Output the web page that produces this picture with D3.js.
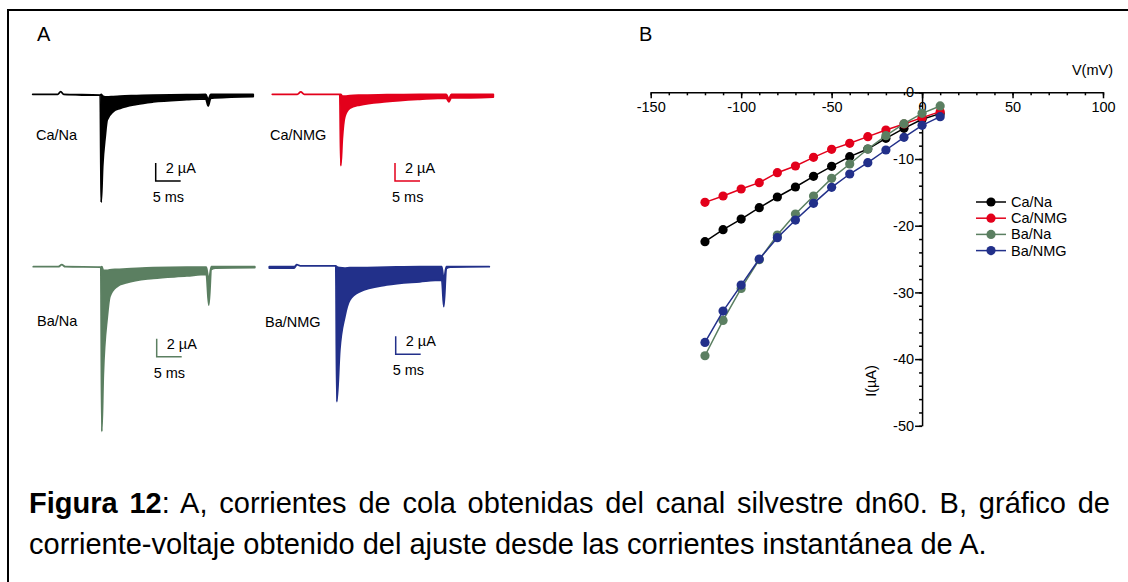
<!DOCTYPE html>
<meta charset="utf-8">
<style>
  body { margin: 0; background: #fff; }
  svg text { font-family: "Liberation Sans", Arial, sans-serif; }
  .axis path, .axis line { stroke: #000; stroke-width: 1.5; }
  .axis text { font-size: 14.5px; fill: #000; }
</style>
<body>
<svg id="fig" width="1128" height="582"></svg>
<script src="https://d3js.org/d3.v7.min.js"></script>
<script>
// ---- panel B data: I-V curves ----
const volts = [-120, -110, -100, -90, -80, -70, -60, -50, -40, -30, -20, -10, 0, 10];
const caNa  = [-22.4, -20.6, -19.0, -17.3, -15.7, -14.2, -12.6, -11.1, -9.65, -8.5, -6.9, -5.4, -4.05, -3.2];
const caNmg = [-16.5, -15.55, -14.5, -13.55, -12.05, -11.05, -9.75, -8.55, -7.65, -6.65, -5.65, -4.75, -3.8, -2.9];
const baNa  = [-39.5, -34.2, -29.4, -25.1, -21.4, -18.25, -15.55, -12.9, -10.75, -8.5, -6.5, -4.7, -3.15, -2.05];
const baNmg = [-37.5, -32.8, -28.9, -25.0, -21.8, -19.15, -16.65, -14.25, -12.25, -10.55, -8.65, -6.75, -4.95, -3.65];
const seriesNames = ["Ca/Na", "Ca/NMG", "Ba/Na", "Ba/NMG"];
const seriesColors = ["#000000", "#e3001b", "#5b7f61", "#22308a"];
const xMajor = [-150, -100, -50, 0, 50, 100];
const yMajor = [0, -10, -20, -30, -40, -50];

// ---- panel A data: tail current envelopes (ms, uA) ----
// hi = smallest sweep (upper edge), lo = largest sweep (lower edge)
const tCaNa  = [0, 5.0, 5.6, 6.2, 13.5, 13.7, 14.0, 14.5, 14.9, 16.1, 17.5, 20.8, 24.1, 30.8, 34.6, 35.1, 35.6, 36.5, 44.1];
const hiCaNa = [0, 0, 0.3, 0, -0.1, 0, -0.2, -0.3, -0.3, -0.25, -0.2, -0.15, -0.1, -0.05, 0, -0.6, 0, 0, 0];
const loCaNa = [0, 0, 0.3, 0, -0.1, -12.0, -8.0, -4.7, -2.86, -1.93, -1.56, -1.11, -0.85, -0.6, -0.5, -1.3, -0.45, -0.4, -0.25];

const tCaNmg  = [0, 5.0, 5.7, 6.4, 13.5, 13.7, 14.0, 14.5, 15.5, 17.5, 22.9, 29.5, 34.8, 35.3, 35.8, 36.5, 44.2];
const hiCaNmg = [0, 0, 0.26, 0, 0, 0, -0.2, -0.2, -0.15, -0.1, -0.05, 0, 0, -0.5, 0, 0, 0];
const loCaNmg = [0, 0, 0.26, 0, 0, -7.93, -5.0, -2.49, -1.56, -1.19, -0.82, -0.56, -0.42, -0.85, -0.4, -0.4, -0.3];

const tBaNa  = [0, 5.0, 5.7, 6.4, 13.5, 13.7, 14.0, 14.8, 15.3, 16.7, 18.7, 24.0, 30.7, 34.6, 35.1, 35.6, 36.5, 44.3];
const hiBaNa = [0, 0, 0.22, 0, -0.05, 0, -0.4, -0.4, -0.35, -0.3, -0.25, -0.1, -0.05, -0.05, -1.5, 0, 0, 0];
const loBaNa = [0, 0, 0.22, 0, -0.05, -18.3, -12.0, -5.56, -3.33, -2.22, -1.78, -1.29, -1.03, -0.85, -4.26, -0.3, -0.15, -0.1];

const tBaNmg  = [0, 5.0, 5.5, 6.2, 13.3, 13.5, 14.1, 15.1, 16.1, 18.1, 23.5, 30.1, 34.5, 34.9, 35.4, 36.3, 44.0];
const hiBaNmg = [0, 0, 0.22, 0.1, 0.1, 0, -0.1, -0.15, -0.1, -0.1, -0.05, 0, 0, -1.5, 0, 0, 0];
const loBaNmg = [-0.15, -0.15, 0.22, 0.1, 0.1, -15.0, -9.26, -5.56, -3.7, -2.78, -2.03, -1.67, -1.5, -4.44, -0.2, -0.05, 0];

const caption1 = ": A, corrientes de cola obtenidas del canal silvestre dn60. B, gráfico de";
const caption2 = "corriente-voltaje obtenido del ajuste desde las corrientes instantánea de A.";

const svg = d3.select("#fig");

// frame
svg.append("path")
  .attr("d", "M8,582V10H1128")
  .attr("fill", "none").attr("stroke", "#000").attr("stroke-width", 2);

svg.append("text").attr("x", 37).attr("y", 41).attr("font-size", 20).text("A");
svg.append("text").attr("x", 639).attr("y", 41).attr("font-size", 20).text("B");

// ---------------- panel A ----------------
const tx = d3.scaleLinear().domain([0, 10]).range([0, 50]);   // 5 px per ms
const ty = d3.scaleLinear().domain([0, -10]).range([0, 90]);  // 9 px per uA

const traces = [
  { name: "Ca/Na",  t: tCaNa,  hi: hiCaNa,  lo: loCaNa,  color: seriesColors[0], x0: 32.7, y0: 94.3,
    label: [36, 140], bar: [155.7, 181] },
  { name: "Ca/NMG", t: tCaNmg, hi: hiCaNmg, lo: loCaNmg, color: seriesColors[1], x0: 272.3, y0: 94.3,
    label: [270, 140], bar: [395, 181] },
  { name: "Ba/Na",  t: tBaNa,  hi: hiBaNa,  lo: loBaNa,  color: seriesColors[2], x0: 33.3, y0: 266.7,
    label: [37, 326], bar: [156.7, 356.7] },
  { name: "Ba/NMG", t: tBaNmg, hi: hiBaNmg, lo: loBaNmg, color: seriesColors[3], x0: 269.3, y0: 266.7,
    label: [265, 327], bar: [395.7, 354.3] }
];

const traceArea = d3.area()
  .x(d => tx(d.t))
  .y0(d => ty(d.hi))
  .y1(d => ty(d.lo))
  .curve(d3.curveMonotoneX);

traces.forEach(tr => {
  const pts = tr.t.map((t, i) => ({ t: t, hi: tr.hi[i], lo: tr.lo[i] }));
  const g = svg.append("g").attr("transform", `translate(${tr.x0},${tr.y0})`);
  g.append("path")
    .attr("d", traceArea(pts))
    .attr("fill", tr.color)
    .attr("stroke", tr.color)
    .attr("stroke-width", 1.8)
    .attr("stroke-linejoin", "round");

  svg.append("text")
    .attr("x", tr.label[0]).attr("y", tr.label[1])
    .attr("font-size", 14.5)
    .text(tr.name);

  // scale bar: 5 ms / 2 uA
  const bx = tr.bar[0], by = tr.bar[1];
  svg.append("path")
    .attr("d", `M${bx},${by + ty(2)}V${by}H${bx + tx(5)}`)
    .attr("fill", "none").attr("stroke", tr.color).attr("stroke-width", 1.5);
  svg.append("text").attr("x", bx + 10).attr("y", by - 8)
    .attr("font-size", 14.5).text("2 µA");
  svg.append("text").attr("x", bx - 3).attr("y", by + 21)
    .attr("font-size", 14.5).text("5 ms");
});

// ---------------- panel B ----------------
const x = d3.scaleLinear().domain([-150, 100]).range([650.7, 1103]);
const y = d3.scaleLinear().domain([-50, 0]).range([425.8, 92.3]);

// minor ticks
svg.append("g").attr("class", "axis")
  .attr("transform", `translate(0,${y(0)})`)
  .call(d3.axisBottom(x).tickValues(d3.range(-150, 101, 10)).tickSize(3).tickSizeOuter(0).tickFormat(""))
  .call(g => g.select(".domain").remove());
svg.append("g").attr("class", "axis")
  .attr("transform", `translate(0,${y(0)})`)
  .call(d3.axisBottom(x).tickValues(xMajor).tickSize(6).tickSizeOuter(0).tickPadding(3)
    .tickFormat(d => String(d)));

svg.append("g").attr("class", "axis")
  .attr("transform", `translate(${x(0)},0)`)
  .call(d3.axisLeft(y).tickValues(d3.range(-50, 0.1, 2)).tickSize(3).tickSizeOuter(0).tickFormat(""))
  .call(g => g.select(".domain").remove());
svg.append("g").attr("class", "axis")
  .attr("transform", `translate(${x(0)},0)`)
  .call(d3.axisLeft(y).tickValues(yMajor).tickSize(7).tickSizeOuter(0).tickPadding(1)
    .tickFormat(d => String(d)));

svg.append("text")
  .attr("x", 1113).attr("y", 75)
  .attr("text-anchor", "end").attr("font-size", 14.5)
  .text("V(mV)");

svg.append("text")
  .attr("transform", `translate(876,381) rotate(-90)`)
  .attr("text-anchor", "middle").attr("font-size", 14.5)
  .text("I(µA)");

const ivSeries = [caNa, caNmg, baNa, baNmg];
const ivLine = d3.line().x((d, i) => x(volts[i])).y(d => y(d));

ivSeries.forEach((vals, k) => {
  const g = svg.append("g");
  g.append("path")
    .attr("d", ivLine(vals))
    .attr("fill", "none")
    .attr("stroke", seriesColors[k])
    .attr("stroke-width", 1.5);
  g.selectAll("circle")
    .data(vals)
    .join("circle")
    .attr("cx", (d, i) => x(volts[i]))
    .attr("cy", d => y(d))
    .attr("r", 4.6)
    .attr("fill", seriesColors[k]);
});

// legend
const legend = svg.append("g").attr("transform", "translate(976,202)");
seriesNames.forEach((name, k) => {
  const row = legend.append("g").attr("transform", `translate(0,${k * 16.2})`);
  row.append("line").attr("x1", 0).attr("x2", 30)
    .attr("stroke", seriesColors[k]).attr("stroke-width", 1.5);
  row.append("circle").attr("cx", 15).attr("r", 4.6).attr("fill", seriesColors[k]);
  row.append("text").attr("x", 35).attr("dy", "0.35em")
    .attr("font-size", 14.5).text(name);
});

// ---------------- caption ----------------
const cap1 = svg.append("text")
  .attr("x", 29).attr("y", 513)
  .attr("font-size", 29);
cap1.append("tspan").attr("font-weight", "bold").text("Figura 12");
cap1.append("tspan").text(caption1);

// justify the first line to the right margin
const natural = cap1.node().getComputedTextLength();
const spaces = ("Figura 12" + caption1).split(" ").length - 1;
cap1.attr("word-spacing", (1110 - 29 - natural) / spaces);

svg.append("text")
  .attr("x", 29).attr("y", 554)
  .attr("font-size", 29)
  .text(caption2);
</script>
</body>
